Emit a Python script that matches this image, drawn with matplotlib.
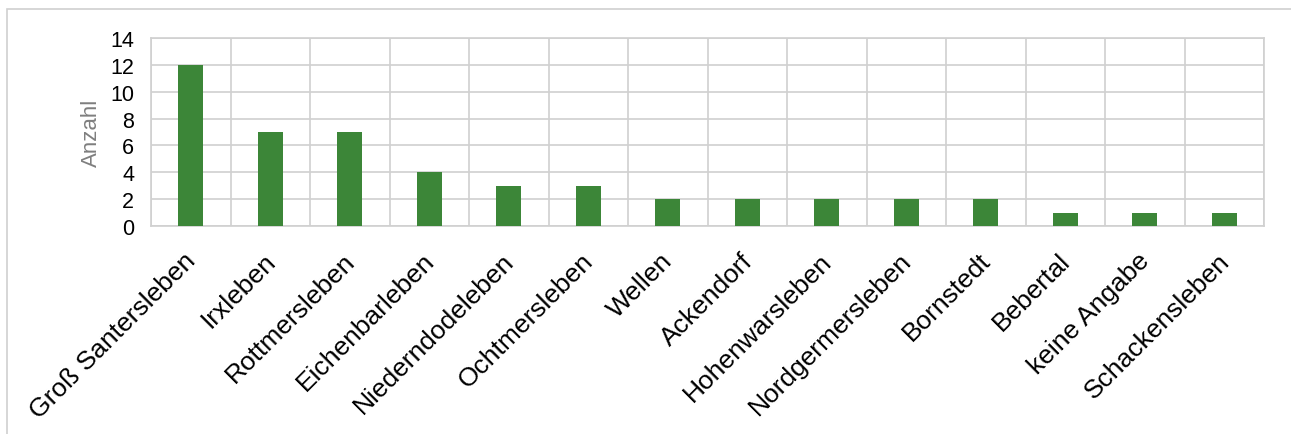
import matplotlib.pyplot as plt
import numpy as np
from matplotlib.patches import Rectangle

# Orte und Anzahl
orte = ['Groß Santersleben', 'Irxleben', 'Rottmersleben', 'Eichenbarleben',
        'Niederndodeleben', 'Ochtmersleben', 'Wellen', 'Ackendorf',
        'Hohenwarsleben', 'Nordgermersleben', 'Bornstedt', 'Bebertal',
        'keine Angabe', 'Schackensleben']
anzahl = [12, 7, 7, 4, 3, 3, 2, 2, 2, 2, 2, 1, 1, 1]

plt.rcParams['font.family'] = ['Liberation Sans', 'DejaVu Sans']

fig = plt.figure(figsize=(12.91, 4.35), dpi=100)
ax = fig.add_axes([151/1291, 1-227/435, (1264-151)/1291, (227-39)/435])

x = np.arange(len(orte))
ax.bar(x, anzahl, width=0.31, color='#3C8638', zorder=3)

ax.set_xlim(-0.5, len(orte)-0.5)
ax.set_ylim(0, 14)
ax.set_yticks(range(0, 15, 2))
ax.set_xticks(x - 0.09)
ax.set_xticklabels(orte, rotation=45, ha='right', rotation_mode='anchor', fontsize=19)
ax.set_xticks(np.arange(-0.5, len(orte), 1), minor=True)
ax.tick_params(axis='x', which='both', length=0, pad=16)
ax.tick_params(axis='y', length=0, labelsize=15.5, pad=12)
ax.grid(True, which='minor', axis='x', color='#D0D0D0', linewidth=1.2, zorder=0)
ax.grid(True, which='major', axis='y', color='#D0D0D0', linewidth=1.2, zorder=0)
for s in ax.spines.values():
    s.set_color('#D0D0D0')
    s.set_linewidth(1.2)

ax.set_ylabel('Anzahl', fontsize=16, color='#7F7F7F', labelpad=6)

# Rahmen um das Diagramm
fig.patches.append(Rectangle((7/1291, -0.5), 2, 1.5 - 10/435, transform=fig.transFigure,
                             fill=False, edgecolor='#D0D0D0', linewidth=1.2))

fig.savefig('out.png', dpi=100)
